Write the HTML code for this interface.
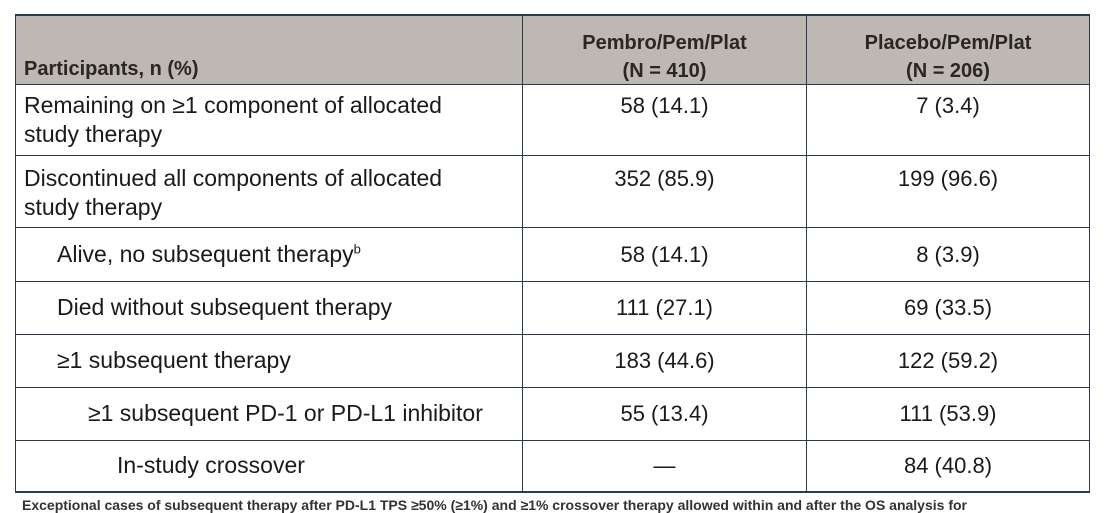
<!DOCTYPE html>
<html><head><meta charset="utf-8"><style>
body{margin:0;width:1112px;height:502px;overflow:hidden;background:#fff;font-family:"Liberation Sans",Arial,sans-serif;position:relative}
.l{position:absolute;background:#2b3a4a}
.h{position:absolute;left:16px;top:15px;width:1073px;height:70px;background:#bdb8b1}
.t{position:absolute;font-size:23px;color:#1a1a1a;line-height:29px;white-space:nowrap}
.c{position:absolute;font-size:22px;color:#1a1a1a;text-align:center;line-height:29px}
.b{font-weight:bold;font-size:20px;color:#2a2622}
</style></head><body>
<div class="h"></div>
<div class="l" style="left:15px;top:14px;width:1075px;height:2px"></div>
<div class="l" style="left:15px;top:84px;width:1075px;height:1px"></div>
<div class="l" style="left:15px;top:155px;width:1075px;height:1px"></div>
<div class="l" style="left:15px;top:227px;width:1075px;height:1px"></div>
<div class="l" style="left:15px;top:281px;width:1075px;height:1px"></div>
<div class="l" style="left:15px;top:334px;width:1075px;height:1px"></div>
<div class="l" style="left:15px;top:387px;width:1075px;height:1px"></div>
<div class="l" style="left:15px;top:440px;width:1075px;height:1px"></div>
<div class="l" style="left:15px;top:491px;width:1075px;height:2px"></div>
<div class="l" style="left:15px;top:14px;width:1px;height:479px"></div>
<div class="l" style="left:522px;top:14px;width:1px;height:479px"></div>
<div class="l" style="left:806px;top:14px;width:1px;height:479px"></div>
<div class="l" style="left:1089px;top:14px;width:1px;height:479px"></div>

<div class="t b" style="left:24px;top:55px;line-height:28px;font-size:20px">Participants, n (%)</div>
<div class="c b" style="left:523px;width:283px;top:29px;line-height:28px">Pembro/Pem/Plat<br>(N = 410)</div>
<div class="c b" style="left:807px;width:282px;top:29px;line-height:28px">Placebo/Pem/Plat<br>(N = 206)</div>

<div class="t" style="left:24px;top:91px">Remaining on ≥1 component of allocated<br>study therapy</div>
<div class="c" style="left:523px;width:283px;top:91px">58 (14.1)</div>
<div class="c" style="left:807px;width:282px;top:91px">7 (3.4)</div>

<div class="t" style="left:24px;top:164px">Discontinued all components of allocated<br>study therapy</div>
<div class="c" style="left:523px;width:283px;top:164px">352 (85.9)</div>
<div class="c" style="left:807px;width:282px;top:164px">199 (96.6)</div>

<div class="t" style="left:57px;top:240px">Alive, no subsequent therapy<sup style="font-size:13px;line-height:0">b</sup></div>
<div class="c" style="left:523px;width:283px;top:240px">58 (14.1)</div>
<div class="c" style="left:807px;width:282px;top:240px">8 (3.9)</div>

<div class="t" style="left:57px;top:293px">Died without subsequent therapy</div>
<div class="c" style="left:523px;width:283px;top:293px">111 (27.1)</div>
<div class="c" style="left:807px;width:282px;top:293px">69 (33.5)</div>

<div class="t" style="left:57px;top:346px">≥1 subsequent therapy</div>
<div class="c" style="left:523px;width:283px;top:346px">183 (44.6)</div>
<div class="c" style="left:807px;width:282px;top:346px">122 (59.2)</div>

<div class="t" style="left:88px;top:399px">≥1 subsequent PD-1 or PD-L1 inhibitor</div>
<div class="c" style="left:523px;width:283px;top:399px">55 (13.4)</div>
<div class="c" style="left:807px;width:282px;top:399px">111 (53.9)</div>

<div class="t" style="left:117px;top:451px">In-study crossover</div>
<div class="c" style="left:523px;width:283px;top:451px">—</div>
<div class="c" style="left:807px;width:282px;top:451px">84 (40.8)</div>

<div class="t" style="left:22px;top:497px;font-size:14px;line-height:16px;color:#333;font-weight:bold">Exceptional cases of subsequent therapy after PD-L1 TPS ≥50% (≥1%) and ≥1% crossover therapy allowed within and after the OS analysis for</div>
</body></html>
